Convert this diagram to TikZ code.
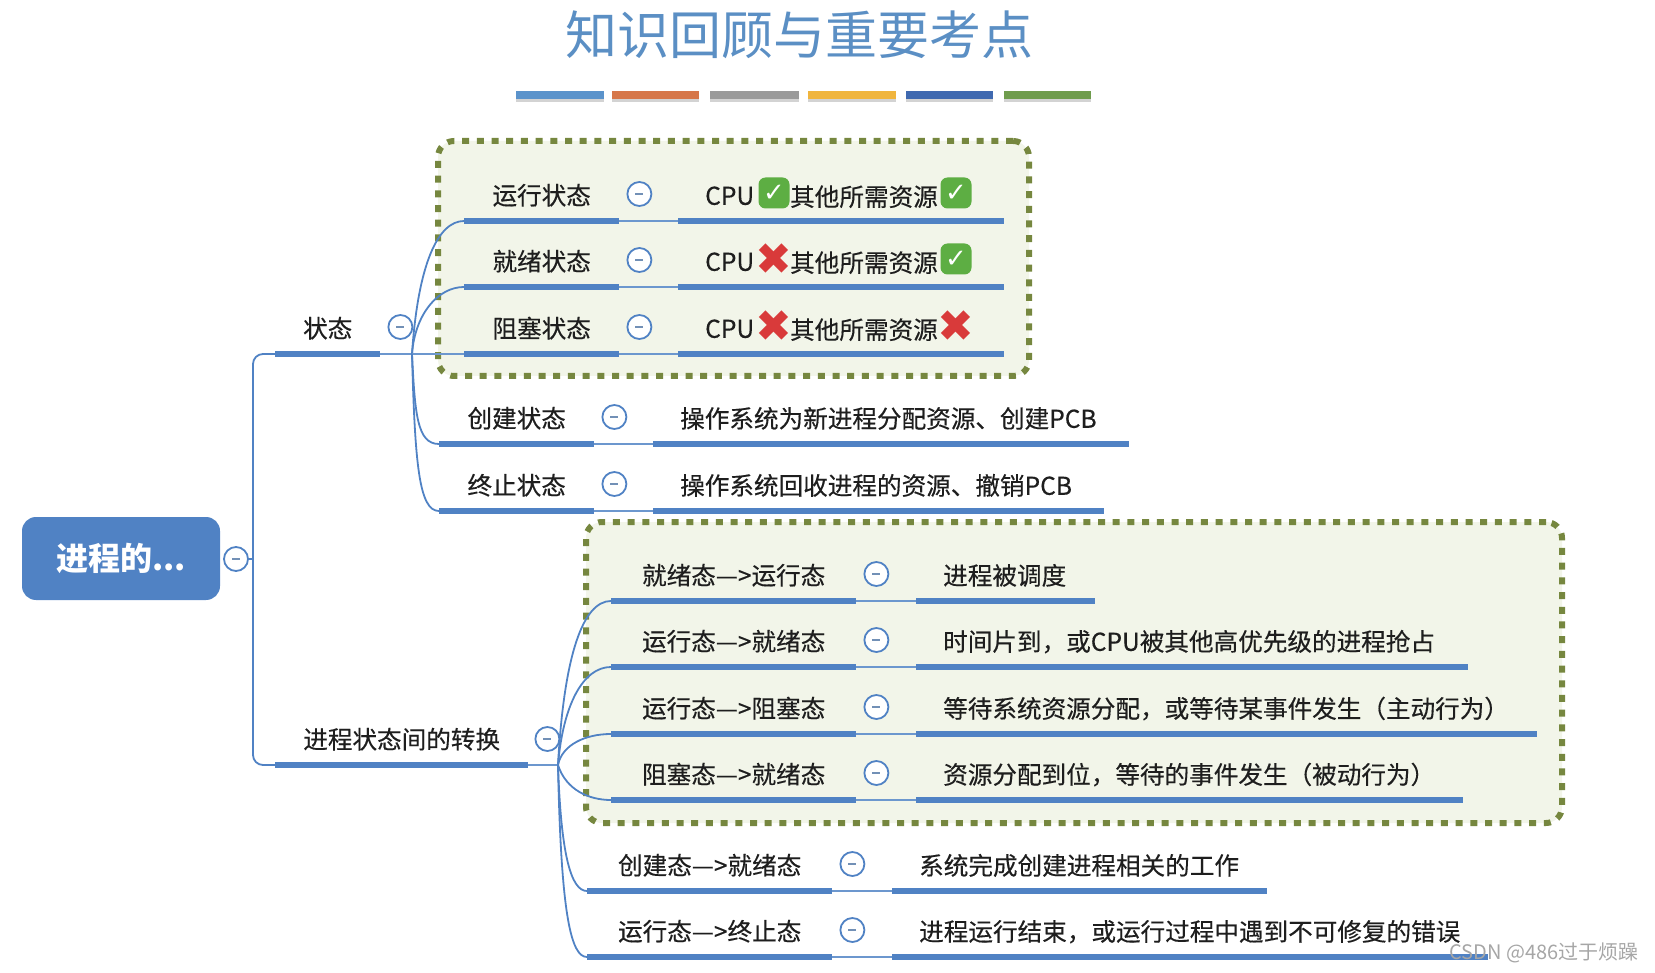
\documentclass[tikz,border=0pt]{standalone}
\usepackage{fontspec}
\setmainfont{Noto Sans CJK SC}
\newfontfamily\symfont{DejaVu Sans}
\newfontfamily\inkfont[FakeBold=0.35]{Noto Sans CJK SC}
\usetikzlibrary{positioning,shadows}
\definecolor{MapBlue}{HTML}{5082C4}
\definecolor{MapLine}{HTML}{6C97CE}
\definecolor{MapPanel}{HTML}{F2F5E9}
\definecolor{MapDots}{HTML}{76873F}
\definecolor{MapInk}{HTML}{1E1E1E}
\definecolor{TitleBlue}{HTML}{5B8FC4}
\definecolor{TickGreen}{HTML}{5DAE43}
\definecolor{CrossRed}{HTML}{D93A3A}
\definecolor{SwatchA}{HTML}{5B93CB}
\definecolor{SwatchB}{HTML}{D6774A}
\definecolor{SwatchC}{HTML}{9A9A9A}
\definecolor{SwatchD}{HTML}{F0B53E}
\definecolor{SwatchE}{HTML}{3F69B0}
\definecolor{SwatchF}{HTML}{6F9C4D}

\begin{document}
\begin{tikzpicture}[
  x=1pt,y=-1pt,
  panel/.style={draw=MapDots,fill=MapPanel,line width=6pt,dash pattern=on 7pt off 7.7pt,rounded corners=16pt,inner sep=0pt},
  swatch/.style={minimum height=8pt,inner sep=0pt,anchor=west,drop shadow={opacity=0.35,shadow xshift=0pt,shadow yshift=-3pt}},
  hbar/.style={fill=MapBlue,minimum height=6pt,inner sep=0pt,anchor=west},
  label/.style={text=MapInk,inner sep=0pt,text height=20pt,text depth=4pt,font=\inkfont\fontsize{24.6}{28}\selectfont},
  leaf/.style={label,above=9pt of #1},
  note/.style={label,above right=12pt and 27pt of #1.west},
  fold/.style={circle,draw=MapBlue,fill=white,line width=1.8pt,minimum size=24pt,inner sep=0pt,
    path picture={\draw[MapLine!70!gray,line width=1.8pt] (path picture bounding box.center) ++(-4,0) -- ++(8,0);}},
  branch/.style={draw=MapBlue,line width=1.8pt},
  link/.style={draw=MapLine,line width=1.8pt},
  tick/.style={fill=TickGreen,rounded corners=7pt,minimum size=31pt,inner sep=0pt,text=white,font=\symfont\fontsize{26}{28}\selectfont},
  cross/.style={text=CrossRed,inner sep=0pt,font=\symfont\fontsize{44}{46}\selectfont},
]
\useasboundingbox (0,0) rectangle (1655,973);
\node[text=TitleBlue,font=\fontsize{52}{60}\selectfont] (title) at (799,35) {知识回顾与重要考点};
\node[swatch,fill=SwatchA,minimum width=88pt] (s1) at (516,95) {};
\node[swatch,fill=SwatchB,minimum width=87pt] (s2) at (612,95) {};
\node[swatch,fill=SwatchC,minimum width=89pt] (s3) at (710,95) {};
\node[swatch,fill=SwatchD,minimum width=88pt] (s4) at (808,95) {};
\node[swatch,fill=SwatchE,minimum width=87pt] (s5) at (906,95) {};
\node[swatch,fill=SwatchF,minimum width=87pt] (s6) at (1004,95) {};

\node[panel,minimum width=591pt,minimum height=235pt] (box1) at (733.5,258.5) {};
\node[panel,minimum width=976pt,minimum height=301pt] (box2) at (1074,672.5) {};

\node[fill=MapBlue,rounded corners=14pt,minimum width=198pt,minimum height=83pt,text=white,font=\bfseries\fontsize{32}{36}\selectfont] (root) at (121,558.5) {进程的...};
\node[fold] (rootfold) at (236,559) {};
\coordinate (trunk) at (253,559);

\node[hbar,minimum width=105pt] (st) at (275,354) {};
\node[leaf=st] (stl) {状态};
\node[fold] (stf) at ([shift={(20,-27)}]st.east) {};
\coordinate (j1) at (412,354);
\node[hbar,minimum width=253pt] (tr) at (275,765) {};
\node[leaf=tr] (trl) {进程状态间的转换};
\node[fold] (trf) at ([shift={(19,-26)}]tr.east) {};
\coordinate (j2) at (558,765);

\node[hbar,minimum width=155pt] (a1) at (464,221) {};
\node[leaf=a1] (a1l) {运行状态};
\node[fold] (a1f) at ([shift={(20,-27)}]a1.east) {};
\node[hbar,minimum width=326pt] (b1) at (678,221) {};
\node[note=b1] (b1t) {CPU};
\node[tick] (b1a) at (774,193) {✓};
\node[label] (b1u) at (864,198) {其他所需资源};
\node[tick] (b1b) at (956,193) {✓};

\node[hbar,minimum width=155pt] (a2) at (464,287) {};
\node[leaf=a2] (a2l) {就绪状态};
\node[fold] (a2f) at ([shift={(20,-27)}]a2.east) {};
\node[hbar,minimum width=326pt] (b2) at (678,287) {};
\node[note=b2] (b2t) {CPU};
\node[cross] (b2a) at (774,259) {✖};
\node[label] (b2u) at (864,264) {其他所需资源};
\node[tick] (b2b) at (956,259) {✓};

\node[hbar,minimum width=155pt] (a3) at (464,354) {};
\node[leaf=a3] (a3l) {阻塞状态};
\node[fold] (a3f) at ([shift={(20,-27)}]a3.east) {};
\node[hbar,minimum width=326pt] (b3) at (678,354) {};
\node[note=b3] (b3t) {CPU};
\node[cross] (b3a) at (774,326) {✖};
\node[label] (b3u) at (864,331) {其他所需资源};
\node[cross] (b3b) at (956,326) {✖};

\node[hbar,minimum width=155pt] (a4) at (439,444) {};
\node[leaf=a4] (a4l) {创建状态};
\node[fold] (a4f) at ([shift={(20,-27)}]a4.east) {};
\node[hbar,minimum width=476pt] (b4) at (653,444) {};
\node[note=b4] (b4t) {操作系统为新进程分配资源、创建PCB};

\node[hbar,minimum width=155pt] (a5) at (439,511) {};
\node[leaf=a5] (a5l) {终止状态};
\node[fold] (a5f) at ([shift={(20,-27)}]a5.east) {};
\node[hbar,minimum width=451pt] (b5) at (653,511) {};
\node[note=b5] (b5t) {操作系统回收进程的资源、撤销PCB};

\node[hbar,minimum width=245pt] (c1) at (611,601) {};
\node[leaf=c1] (c1l) {就绪态—>运行态};
\node[fold] (c1f) at ([shift={(20,-27)}]c1.east) {};
\node[hbar,minimum width=179pt] (d1) at (916,601) {};
\node[note=d1] (d1t) {进程被调度};

\node[hbar,minimum width=245pt] (c2) at (611,667) {};
\node[leaf=c2] (c2l) {运行态—>就绪态};
\node[fold] (c2f) at ([shift={(20,-27)}]c2.east) {};
\node[hbar,minimum width=552pt] (d2) at (916,667) {};
\node[note=d2] (d2t) {时间片到，或CPU被其他高优先级的进程抢占};

\node[hbar,minimum width=245pt] (c3) at (611,734) {};
\node[leaf=c3] (c3l) {运行态—>阻塞态};
\node[fold] (c3f) at ([shift={(20,-27)}]c3.east) {};
\node[hbar,minimum width=621pt] (d3) at (916,734) {};
\node[note=d3] (d3t) {等待系统资源分配，或等待某事件发生（主动行为）};

\node[hbar,minimum width=245pt] (c4) at (611,800) {};
\node[leaf=c4] (c4l) {阻塞态—>就绪态};
\node[fold] (c4f) at ([shift={(20,-27)}]c4.east) {};
\node[hbar,minimum width=547pt] (d4) at (916,800) {};
\node[note=d4] (d4t) {资源分配到位，等待的事件发生（被动行为）};

\node[hbar,minimum width=245pt] (c5) at (587,891) {};
\node[leaf=c5] (c5l) {创建态—>就绪态};
\node[fold] (c5f) at ([shift={(20,-27)}]c5.east) {};
\node[hbar,minimum width=375pt] (d5) at (892,891) {};
\node[note=d5] (d5t) {系统完成创建进程相关的工作};

\node[hbar,minimum width=245pt] (c6) at (587,957) {};
\node[leaf=c6] (c6l) {运行态—>终止态};
\node[fold] (c6f) at ([shift={(20,-27)}]c6.east) {};
\node[hbar,minimum width=596pt] (d6) at (892,957) {};
\node[note=d6] (d6t) {进程运行结束，或运行过程中遇到不可修复的错误};

\node[text=gray!70,inner sep=0pt,anchor=east,font=\fontsize{20}{24}\selectfont] (mark) at (1639,953) {CSDN @486过于烦躁};

\draw[branch] (rootfold) -- (trunk);
\draw[branch,rounded corners=10pt] (st.west) -- (trunk |- st.west) -- (trunk |- tr.west) -- (tr.west);
\draw[link] (st.east) -- (j1);
\draw[link] (tr.east) -- (j2);

\draw[branch] (j1) .. controls +(6,-90) and +(-26,0) .. (a1.west);
\draw[branch] (j1) .. controls +(3,-40) and +(-26,0) .. (a2.west);
\draw[link] (j1) -- (a3.west);
\draw[branch] (j1) .. controls +(3,60) and +(-22,0) .. (a4.west);
\draw[branch] (j1) .. controls +(3,110) and +(-20,0) .. (a5.west);

\draw[branch] (j2) .. controls +(6,-110) and +(-28,0) .. (c1.west);
\draw[branch] (j2) .. controls +(5,-60) and +(-28,0) .. (c2.west);
\draw[branch] (j2) .. controls +(4,-20) and +(-26,0) .. (c3.west);
\draw[branch] (j2) .. controls +(8,25) and +(-22,0) .. (c4.west);
\draw[branch] (j2) .. controls +(3,90) and +(-16,0) .. (c5.west);
\draw[branch] (j2) .. controls +(3,150) and +(-16,0) .. (c6.west);

\draw[link] (a1.east) -- (b1.west);
\draw[link] (a2.east) -- (b2.west);
\draw[link] (a3.east) -- (b3.west);
\draw[link] (a4.east) -- (b4.west);
\draw[link] (a5.east) -- (b5.west);
\draw[link] (c1.east) -- (d1.west);
\draw[link] (c2.east) -- (d2.west);
\draw[link] (c3.east) -- (d3.west);
\draw[link] (c4.east) -- (d4.west);
\draw[link] (c5.east) -- (d5.west);
\draw[link] (c6.east) -- (d6.west);
\end{tikzpicture}
\end{document}
